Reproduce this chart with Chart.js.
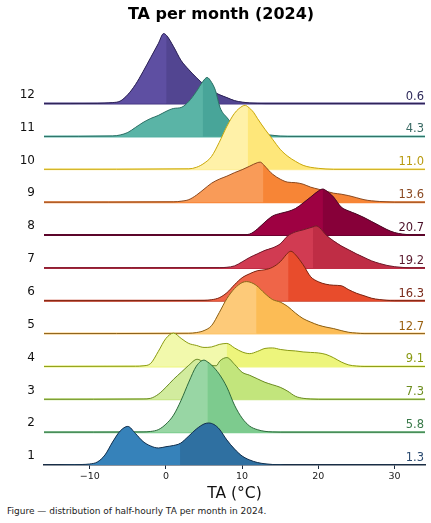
<!DOCTYPE html>
<html><head><meta charset="utf-8">
<script src="https://cdn.jsdelivr.net/npm/chart.js@4.4.1/dist/chart.umd.min.js"></script>
<style>
html,body{margin:0;padding:0;background:#fff;}
#wrap{position:relative;width:431px;height:523px;overflow:hidden;font-family:"DejaVu Sans",sans-serif;}
#title{position:absolute;left:0;top:4px;width:442px;text-align:center;font-weight:bold;font-size:16px;color:#000;line-height:20px;}
#box{position:absolute;left:0;top:0;width:431px;height:503px;}
#caption{position:absolute;left:7px;top:505px;font-size:9px;color:#222;line-height:12px;white-space:nowrap;}
</style></head>
<body>
<div id="wrap">
  <div id="box"><canvas id="c"></canvas></div>
  <div id="title">TA per month (2024)</div>
  <div id="caption">Figure — distribution of half-hourly TA per month in 2024.</div>
</div>
<script>
// ---- data ----
const months = [1,2,3,4,5,6,7,8,9,10,11,12];
const yTickLabels = ['1','2','3','4','5','6','7','8','9','10','11','12'];
const xTickValues = [-10, 0, 10, 20, 30];
const xTitle = 'TA (°C)';
const medians = [1.9, 5.5, 7.1, 8.0, 11.9, 16.1, 19.3, 20.6, 12.8, 10.76, 4.85, 0.1];
const means   = [1.3, 5.8, 7.3, 9.1, 12.7, 16.3, 19.2, 20.7, 13.6, 11.0, 4.3, 0.6];

// relative density per temperature [TA, density]
const density1 = [[-16,0],[-12,0.2],[-11,0.5],[-10,1],[-9,3],[-8,10],[-7,23],[-6,34],[-5,38.6],[-4,31.5],[-3,23.5],[-2,19],[-1,17],[0,18.3],[1,19.5],[1.9,21.7],[3,29],[4,36],[5,41],[5.6,42],[6.3,40.5],[7,36],[8,25],[9,16],[10,9],[11,5],[12,2.5],[13,1.2],[14,0.5],[15,0.2],[16,0],[34,0]];
const density2 = [[-16,0],[-3,0.2],[-2,0.7],[-1,2.5],[0,8],[1,17],[2,32],[3,50],[4,66],[5,72],[5.5,70],[6,67],[7,58],[8,45],[9,27],[10,14],[11,6],[12,2.5],[13,0.8],[14,0.2],[15,0],[34,0]];
const density3 = [[-16,0],[-3,0.3],[-2,1],[-1,5],[0,12],[1,20],[2,27],[3,34],[4.1,40],[5,37],[6,34],[6.6,33.5],[7.1,38.5],[8,41.7],[9,35],[10,27],[11,24],[12,20.5],[13,17],[14,14.5],[15,12],[16,8],[17,3],[18,1],[19,0.3],[20,0],[34,0]];
const density4 = [[-16,0],[-4,0.2],[-3,0.6],[-2,3],[-1,15],[0,28],[1,33.3],[2,28],[3,23],[4,21],[5,19],[6,19.5],[7,22],[8,23],[9,18.5],[10,14.5],[11,12.8],[12,15],[13,18],[14,18.5],[15,17],[16,16],[17,15.5],[18,14.5],[19,14],[20,13.5],[21,12],[22,8.7],[23,4.5],[24,1.5],[25,0.4],[26,0],[34,0]];
const density5 = [[-16,0],[3,0.3],[4,1],[5,3],[6,8],[7,21],[8,35],[9,45],[10,51],[10.6,52],[11.2,51],[11.9,48],[13,40],[14,34],[15,31.5],[16,27],[17,20.5],[18,15],[19,11.5],[20,8.5],[21,6.5],[22,5],[23,3],[24,1.3],[25,0.5],[26,0],[34,0]];
const density6 = [[-16,0],[5,0.3],[6,1],[7,3],[8,8],[9,16],[10,23],[11,27],[12,30],[13,31],[14,33.5],[15,39],[16.1,48.5],[16.4,49.5],[17,46],[18,36],[19,24],[20,19],[21,16.5],[22,15.5],[23,15],[24,11],[25,7.5],[26,5],[27,2.5],[28,1.2],[29,0.4],[30,0],[34,0]];
const density7 = [[-16,0],[7,0.2],[8,0.6],[9,2],[10,6],[11,10.5],[12,14],[13,17.5],[14,20],[15,24],[16,32],[17,36],[18,38],[19.3,41],[19.7,42],[20.2,40],[21,33],[22,27],[23,22],[24,18],[25,14],[26,10.5],[27,7],[28,4.5],[29,2.5],[30,1.2],[31,0.5],[32,0],[34,0]];
const density8 = [[-16,0],[10,0.2],[11,1],[12,6],[13,13],[14,19],[15,21.6],[16,23.5],[17,26.5],[18,32],[19,38],[20,44],[20.6,46],[21,44.5],[22,38],[23,28],[24,24],[25,21],[26,17.5],[27,13.5],[28,9.5],[29,5.5],[30,2.5],[31,1],[32,0.3],[33,0],[34,0]];
const density9 = [[-16,0],[1,0.3],[2,1],[3,2.5],[4,7],[5,13],[6,19],[7,23],[8,26],[9,29.5],[10,32.5],[11,36],[12,39.5],[12.4,40],[12.8,37.5],[13.5,31.7],[14,28],[15,23],[16,20],[17,19.5],[18,18],[19,15],[20,13],[21,11],[22,9],[23,8],[24,6.5],[25,4.5],[26,2.5],[27,1.3],[28,0.7],[29,0.3],[30,0],[34,0]];
const density10 = [[-16,0],[3,0.5],[4,2],[5,6],[6,13],[7,27],[8,43],[9,56],[10,63],[10.4,64],[10.76,62.5],[11.5,57],[12,51],[13,40],[14,30],[15,20],[16,13],[17,8],[18,4],[19,2],[20,1],[21,0.3],[22,0],[34,0]];
const density11 = [[-16,0],[-7,0.5],[-6,1.5],[-5,4],[-4,9],[-3,14],[-2,18],[-1,21],[0,25],[1,28],[2,29],[3,35],[4,45],[4.85,55],[5.4,59],[6,54],[6.5,46],[7.1,29],[8,19],[9,11],[10,7],[11,4.5],[12,3],[13,2],[14,1.2],[15,0.3],[16,0],[34,0]];
const density12 = [[-16,0],[-9,0.2],[-8,0.5],[-7,1],[-6,2.5],[-5,9],[-4,19],[-3,32],[-2,46],[-1,60],[-0.3,70],[0.1,68],[1,57],[2,43],[3,34],[4,26],[5,19],[6,13],[7,9],[8,6],[9,3],[10,1.5],[11,0.6],[12,0.2],[13,0],[34,0]];
const densities = [density1,density2,density3,density4,density5,density6,density7,density8,density9,density10,density11,density12];

// ---- styles ----
const fillLeft  = ['#3682ba','#98d6a4','#d2ec9e','#f2f9ac','#fdca79','#ef6548','#d13b52','#9e0142','#f99b58','#fff1a8','#5ab4a6','#5e4fa2'];
const fillRight = ['#2f70a1','#7dcb8e','#c2e57c','#edf57c','#fcbc55','#e84c2c','#bf2d45','#870039','#f78536','#fee77a','#48a599','#524591'];
const lineColors = ['#14304d','#2f6a3d','#6b8a25','#8a9a14','#8a6018','#7a2614','#6e1a2a','#4a0a25','#8a4a22','#c9a80f','#2e7066','#2e2456'];
const baseColors = ['#1c2b3f','#7ccc8f','#c4e582','#eef67f','#fdcb7a','#c83a22','#c02e45','#6e0030','#f88437','#fdeea0','#5bb6a8','#41337f'];
const labelColors = ['#2a4a70','#3a7a4a','#6e8e20','#8a9a14','#9a6010','#7a2a1a','#5a1a2e','#4a1028','#8a4a22','#b89a10','#3a6a64','#2e2a5a'];
const DENS_SCALE = 1 / 32.85;
const FONT = '"DejaVu Sans", sans-serif';

Chart.defaults.font.family = FONT;

const datasets = [];
months.forEach((m, i) => {
  const med = medians[i];
  const pts = densities[i].map(([t, d]) => ({x: t, y: i + d * DENS_SCALE}));
  // outline + two-tone fill (split at the median)
  datasets.push({
    label: 'Month ' + m,
    data: pts,
    borderColor: lineColors[i],
    borderWidth: 1,
    backgroundColor: fillRight[i],
    fill: {value: i},
    pointRadius: 0,
    cubicInterpolationMode: 'monotone',
    segment: {
      backgroundColor: c => (c.p0.parsed.x < med - 1e-9 ? fillLeft[i] : fillRight[i])
    }
  });
  // solid backing fill (hides the seam at the median split)
  datasets.push({
    label: 'backing ' + m,
    data: pts,
    borderWidth: 0,
    borderColor: 'rgba(0,0,0,0)',
    backgroundColor: fillRight[i],
    fill: {value: i},
    pointRadius: 0,
    cubicInterpolationMode: 'monotone'
  });
  datasets.push({
    label: 'base ' + m,
    data: [{x: -16, y: i}, {x: 34, y: i}],
    borderColor: baseColors[i],
    borderWidth: 2,
    pointRadius: 0,
    fill: false
  });
});

const meanLabels = {
  id: 'meanLabels',
  afterDatasetsDraw(chart) {
    const {ctx, chartArea, scales: {y}} = chart;
    ctx.save();
    ctx.font = '11.5px ' + FONT;
    ctx.textAlign = 'right';
    ctx.textBaseline = 'alphabetic';
    means.forEach((v, i) => {
      ctx.fillStyle = labelColors[i];
      ctx.fillText(v.toFixed(1), chartArea.right - 1, y.getPixelForValue(i) - 4);
    });
    ctx.restore();
  }
};

new Chart(document.getElementById('c'), {
  type: 'line',
  data: {datasets},
  plugins: [meanLabels],
  options: {
    responsive: true,
    maintainAspectRatio: false,
    animation: false,
    layout: {padding: {top: 31, right: 6, left: 0, bottom: 0}},
    plugins: {legend: {display: false}, tooltip: {enabled: false}, title: {display: false}},
    scales: {
      x: {
        type: 'linear', min: -16, max: 34,
        afterBuildTicks: s => { s.ticks = xTickValues.map(v => ({value: v})); },
        afterFit: s => { s.height = 38; },
        ticks: {
          font: {size: 9.5}, color: '#222', padding: 2, maxRotation: 0, autoSkip: false,
          callback: v => String(v).replace('-', '\u2212')
        },
        grid: {drawOnChartArea: false, drawTicks: true, tickLength: 4, color: '#1c2b3f', lineWidth: 1},
        border: {display: true, color: '#1c2b3f', width: 1.5},
        title: {display: true, text: xTitle, font: {size: 15.5}, color: '#111', padding: {top: 0, bottom: 0}}
      },
      y: {
        type: 'linear', min: 0, max: 13.21,
        afterBuildTicks: s => { s.ticks = months.map((m, i) => ({value: i + 0.27})); },
        afterFit: s => { s.width = 44; },
        ticks: {
          font: {size: 12}, color: '#111', padding: 9,
          callback: (v, idx) => yTickLabels[idx]
        },
        grid: {display: false, drawTicks: false},
        border: {display: false}
      }
    }
  }
});
</script>
</body></html>
